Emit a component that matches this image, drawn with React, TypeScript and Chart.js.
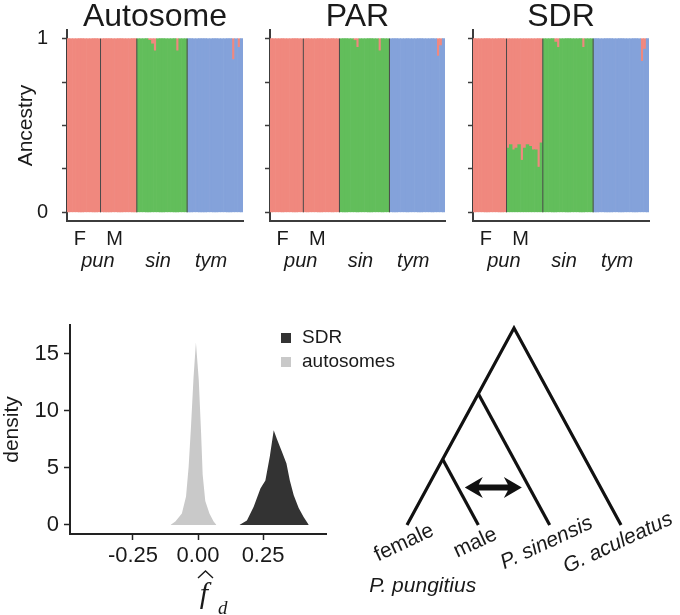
import React, { useEffect, useRef } from 'react';
import { Chart, registerables } from 'chart.js';

Chart.register(...registerables);

const SANS = '"Liberation Sans", Arial, Helvetica, sans-serif';
const SERIF = '"Liberation Serif", "DejaVu Serif", serif';
const INK = '#1a1a1a';
const AXIS_TOP = '#3c3c3c';
const AXIS = '#222222';
const RED = '#F0887E';
const GREEN = '#62BE5B';
const BLUE = '#84A2DA';

// ---------- Top row: ancestry proportions ----------
const panelTitles = ['Autosome', 'PAR', 'SDR'];
const groupSizes = [12, 13, 18, 20]; // pun F, pun M, sin, tym
const sexLabels = ['F', 'M'];
const speciesLabels = ['pun', 'sin', 'tym'];
const speciesGroups = [[0, 1], [2], [3]];
const ancestryTicks = [0, 0.25, 0.5, 0.75, 1];
const ancestryTickLabels = ['0', '', '', '', '1'];

// pun (red) ancestry per individual
const autosomePun = [
  1, 1, 1, 1, 1, 1, 1, 1, 1, 1, 1, 1,
  1, 1, 1, 1, 1, 1, 1, 1, 1, 1, 1, 1, 1,
  0, 0, 0, 0, 0.01, 0.03, 0.07, 0, 0, 0, 0, 0, 0, 0, 0.07, 0, 0, 0,
  0, 0, 0, 0, 0, 0, 0, 0, 0, 0, 0, 0, 0, 0, 0, 0, 0.12, 0, 0.05, 0,
];
// sin (green) ancestry per individual
const autosomeSin = [
  0, 0, 0, 0, 0, 0, 0, 0, 0, 0, 0, 0,
  0, 0, 0, 0, 0, 0, 0, 0, 0, 0, 0, 0, 0,
  1, 1, 1, 1, 0.99, 0.97, 0.93, 1, 1, 1, 1, 1, 1, 1, 0.93, 1, 1, 1,
  0, 0, 0, 0, 0, 0, 0, 0, 0, 0, 0, 0, 0, 0, 0, 0, 0, 0, 0, 0,
];
const parPun = [
  1, 1, 1, 1, 1, 1, 1, 1, 1, 1, 1, 1,
  1, 1, 1, 1, 1, 1, 1, 1, 1, 1, 1, 1, 1,
  0, 0, 0, 0, 0, 0.01, 0.05, 0, 0, 0, 0, 0, 0, 0, 0.07, 0, 0, 0,
  0, 0, 0, 0, 0, 0, 0, 0, 0, 0, 0, 0, 0, 0, 0, 0, 0, 0.1, 0.04, 0,
];
const parSin = [
  0, 0, 0, 0, 0, 0, 0, 0, 0, 0, 0, 0,
  0, 0, 0, 0, 0, 0, 0, 0, 0, 0, 0, 0, 0,
  1, 1, 1, 1, 1, 0.99, 0.95, 1, 1, 1, 1, 1, 1, 1, 0.93, 1, 1, 1,
  0, 0, 0, 0, 0, 0, 0, 0, 0, 0, 0, 0, 0, 0, 0, 0, 0, 0, 0, 0,
];
const sdrPun = [
  1, 1, 1, 1, 1, 1, 1, 1, 1, 1, 1, 1,
  0.63, 0.61, 0.64, 0.63, 0.61, 0.7, 0.63, 0.61, 0.62, 0.64, 0.64, 0.74, 0.6,
  0, 0, 0, 0, 0.02, 0.05, 0, 0, 0, 0, 0, 0, 0, 0, 0.05, 0, 0, 0,
  0, 0, 0, 0, 0, 0, 0, 0, 0, 0, 0, 0, 0, 0, 0, 0, 0, 0.13, 0.06, 0,
];
const sdrSin = [
  0, 0, 0, 0, 0, 0, 0, 0, 0, 0, 0, 0,
  0.37, 0.39, 0.36, 0.37, 0.39, 0.3, 0.37, 0.39, 0.38, 0.36, 0.36, 0.26, 0.4,
  1, 1, 1, 1, 0.98, 0.95, 1, 1, 1, 1, 1, 1, 1, 1, 0.95, 1, 1, 1,
  0, 0, 0, 0, 0, 0, 0, 0, 0, 0, 0, 0, 0, 0, 0, 0, 0, 0, 0, 0,
];

// ---------- Bottom left: density of f_d ----------
const fdTicks = [-0.25, 0, 0.25];
const fdTickLabels = ['-0.25', '0.00', '0.25'];
const densityTicks = [0, 5, 10, 15];
const densityTickLabels = ['0', '5', '10', '15'];
const legendLabels = ['SDR', 'autosomes'];
const sdrFd = [0.159, 0.188, 0.214, 0.24, 0.259, 0.276, 0.291, 0.304, 0.323, 0.34, 0.353, 0.368, 0.387, 0.406, 0.426];
const sdrDensity = [0, 0.4, 1.6, 3.2, 3.9, 6.0, 8.3, 7.5, 6.4, 5.4, 3.9, 2.6, 1.5, 0.7, 0];
const autoFd = [-0.106, -0.087, -0.062, -0.046, -0.036, -0.027, -0.017, -0.008, 0.003, 0.012, 0.018, 0.028, 0.044, 0.06, 0.071];
const autoDensity = [0, 0.3, 1.0, 2.5, 5.1, 8.6, 13.0, 16.0, 12.7, 8.0, 4.4, 2.1, 1.0, 0.3, 0];

// ---------- Bottom right: tree ----------
const tipNames = ['female', 'male', 'P. sinensis', 'G. aculeatus'];
const tipItalic = [false, false, true, true];
const tipX = [0, 1, 2, 3];
const nodeX = [0.5, 1, 1.5];
const nodeHeight = [1, 2, 3];
const groupName = 'P. pungitius';
const introgression = [0.81, 1.61];
const introgressionHeight = 0.57;

function edgePx(xs: any, k: number) {
  return xs.getPixelForValue(k - 0.5);
}

const nz = (arr: number[]) => arr.map((v) => (v > 0 ? v : null));

function AncestryPanel(props: any) {
  const { title, pun, sin, left, width, padLeft, padRight, showY } = props;
  const ref = useRef<HTMLCanvasElement>(null);
  useEffect(() => {
    const labels = pun.map((_: number, i: number) => String(i + 1));
    const tym = pun.map((p: number, i: number) => Math.max(0, +(1 - p - sin[i]).toFixed(3)));
    const decor = {
      id: 'ancestryDecor',
      afterDraw(chart: any) {
        const { ctx, chartArea, scales } = chart;
        const xs = scales.x;
        const ys = scales.y;
        ctx.save();
        ctx.fillStyle = INK;
        ctx.font = `32px ${SANS}`;
        ctx.textAlign = 'center';
        ctx.textBaseline = 'alphabetic';
        ctx.fillText(title, (chartArea.left + chartArea.right) / 2, 26);
        const starts: number[] = [];
        let acc = 0;
        groupSizes.forEach((s) => { starts.push(acc); acc += s; });
        ctx.strokeStyle = '#4a4a4a';
        ctx.lineWidth = 1;
        for (let g = 1; g < groupSizes.length; g++) {
          const x = edgePx(xs, starts[g]);
          ctx.beginPath();
          ctx.moveTo(x, ys.getPixelForValue(1));
          ctx.lineTo(x, ys.getPixelForValue(0));
          ctx.stroke();
        }
        const groupCenter = (gs: number[]) => {
          const a = starts[gs[0]];
          const last = gs[gs.length - 1];
          const b = starts[last] + groupSizes[last];
          return (edgePx(xs, a) + edgePx(xs, b)) / 2 - 4;
        };
        ctx.fillStyle = INK;
        ctx.font = `20px ${SANS}`;
        sexLabels.forEach((t, i) => ctx.fillText(t, groupCenter([i]), 245));
        ctx.font = `italic 20px ${SANS}`;
        speciesLabels.forEach((t, i) => ctx.fillText(t, groupCenter(speciesGroups[i]), 267));
        ctx.restore();
      },
    };
    const chart = new Chart(ref.current as HTMLCanvasElement, {
      type: 'bar',
      data: {
        labels,
        datasets: [
          { label: 'sin', data: nz(sin), backgroundColor: GREEN },
          { label: 'tym', data: nz(tym), backgroundColor: BLUE },
          { label: 'pun', data: nz(pun), backgroundColor: RED },
        ],
      },
      options: {
        responsive: false,
        animation: false,
        layout: { padding: { top: 30, right: padRight, left: 0, bottom: 0 } },
        plugins: { legend: { display: false }, tooltip: { enabled: false }, title: { display: false } },
        datasets: { bar: { barPercentage: 1, categoryPercentage: 1, borderWidth: 0 } },
        scales: {
          x: {
            stacked: true,
            ticks: { display: false },
            grid: { display: false },
            border: { display: true, color: AXIS_TOP, width: 2 },
            afterFit: (s: any) => { s.height = 59; },
          },
          y: {
            stacked: true,
            min: -0.05,
            max: 1.05,
            afterBuildTicks: (s: any) => { s.ticks = ancestryTicks.map((v) => ({ value: v })); },
            ticks: {
              callback: (_v: any, i: number) => (showY ? ancestryTickLabels[i] : ''),
              font: { family: SANS, size: 20 },
              color: INK,
              padding: 14,
            },
            grid: { drawOnChartArea: false, drawTicks: true, tickLength: 5, tickColor: AXIS_TOP, tickWidth: 1.5 },
            border: { display: true, color: AXIS_TOP, width: 2 },
            title: { display: showY, text: 'Ancestry', font: { family: SANS, size: 21 }, color: INK, padding: { top: 14, bottom: 0 } },
            afterFit: (s: any) => { s.width = padLeft; },
          },
        },
      } as any,
      plugins: [decor],
    });
    return () => chart.destroy();
  }, []);
  return <canvas ref={ref} width={width} height={280} style={{ position: 'absolute', left, top: 0 }} />;
}

function DensityPanel() {
  const ref = useRef<HTMLCanvasElement>(null);
  useEffect(() => {
    const decor = {
      id: 'densityDecor',
      afterDraw(chart: any) {
        const { ctx, chartArea, scales } = chart;
        const xs = scales.x;
        ctx.save();
        const colors = ['#333333', '#C9C9C9'];
        legendLabels.forEach((t, i) => {
          const y = chartArea.top + 8 + i * 24;
          ctx.fillStyle = colors[i];
          ctx.fillRect(chartArea.left + 211, y, 10, 10);
          ctx.fillStyle = INK;
          ctx.font = `19px ${SANS}`;
          ctx.textAlign = 'left';
          ctx.textBaseline = 'middle';
          ctx.fillText(t, chartArea.left + 232, y + 5);
        });
        const x0 = xs.getPixelForValue(0);
        ctx.fillStyle = INK;
        ctx.textAlign = 'center';
        ctx.textBaseline = 'alphabetic';
        ctx.font = `italic 30px ${SERIF}`;
        ctx.fillText('f', x0 + 6, 313);
        ctx.strokeStyle = INK;
        ctx.lineWidth = 1.4;
        ctx.beginPath();
        ctx.moveTo(x0 + 0, 288);
        ctx.lineTo(x0 + 7.5, 281);
        ctx.lineTo(x0 + 15, 288);
        ctx.stroke();
        ctx.font = `italic 19px ${SERIF}`;
        ctx.textAlign = 'left';
        ctx.fillText('d', x0 + 20, 324);
        ctx.restore();
      },
    };
    const chart = new Chart(ref.current as HTMLCanvasElement, {
      type: 'line',
      data: {
        datasets: [
          {
            label: legendLabels[0],
            data: sdrFd.map((x, i) => ({ x, y: sdrDensity[i] })),
            backgroundColor: '#333333',
            borderWidth: 0,
            pointRadius: 0,
            fill: 'origin',
            tension: 0,
          },
          {
            label: legendLabels[1],
            data: autoFd.map((x, i) => ({ x, y: autoDensity[i] })),
            backgroundColor: '#C9C9C9',
            borderWidth: 0,
            pointRadius: 0,
            fill: 'origin',
            tension: 0,
          },
        ],
      },
      options: {
        responsive: false,
        animation: false,
        layout: { padding: { top: 35, right: 94, left: 0, bottom: 0 } },
        plugins: { legend: { display: false }, tooltip: { enabled: false } },
        scales: {
          x: {
            type: 'linear',
            min: -0.492,
            max: 0.492,
            afterBuildTicks: (s: any) => { s.ticks = fdTicks.map((v) => ({ value: v })); },
            ticks: {
              callback: (_v: any, i: number) => fdTickLabels[i],
              font: { family: SANS, size: 22 },
              color: INK,
              padding: 3,
              maxRotation: 0,
            },
            grid: { drawOnChartArea: false, drawTicks: true, tickLength: 6, tickColor: AXIS, tickWidth: 1.5 },
            border: { display: true, color: AXIS, width: 2 },
            afterFit: (s: any) => { s.height = 81; },
          },
          y: {
            type: 'linear',
            min: -0.79,
            max: 17.54,
            afterBuildTicks: (s: any) => { s.ticks = densityTicks.map((v) => ({ value: v })); },
            ticks: {
              callback: (_v: any, i: number) => densityTickLabels[i],
              font: { family: SANS, size: 22 },
              color: INK,
              padding: 5,
            },
            grid: { drawOnChartArea: false, drawTicks: true, tickLength: 6, tickColor: AXIS, tickWidth: 1.5 },
            border: { display: true, color: AXIS, width: 2 },
            title: { display: true, text: 'density', font: { family: SANS, size: 21 }, color: INK, padding: { top: 0, bottom: 0 } },
            afterFit: (s: any) => { s.width = 70; },
          },
        },
      } as any,
      plugins: [decor],
    });
    return () => chart.destroy();
  }, []);
  return <canvas ref={ref} width={420} height={325} style={{ position: 'absolute', left: 0, top: 290 }} />;
}

function TreePanel() {
  const ref = useRef<HTMLCanvasElement>(null);
  useEffect(() => {
    const spine = [
      { x: tipX[0], y: 0 },
      { x: nodeX[0], y: nodeHeight[0] },
      { x: nodeX[1], y: nodeHeight[1] },
      { x: nodeX[2], y: nodeHeight[2] },
      { x: tipX[3], y: 0 },
    ];
    const maleBranch = [{ x: nodeX[0], y: nodeHeight[0] }, { x: tipX[1], y: 0 }];
    const sinBranch = [{ x: nodeX[1], y: nodeHeight[1] }, { x: tipX[2], y: 0 }];
    const decor = {
      id: 'treeDecor',
      afterDatasetsDraw(chart: any) {
        const { ctx, scales } = chart;
        const xs = scales.x;
        const ys = scales.y;
        ctx.save();
        const x1 = xs.getPixelForValue(introgression[0]);
        const x2 = xs.getPixelForValue(introgression[1]);
        const y = ys.getPixelForValue(introgressionHeight);
        const L = 18, H = 10.5, t = 3, n = 4;
        ctx.fillStyle = '#111';
        ctx.beginPath();
        ctx.moveTo(x1, y);
        ctx.lineTo(x1 + L, y - H);
        ctx.lineTo(x1 + L - n, y - t);
        ctx.lineTo(x2 - L + n, y - t);
        ctx.lineTo(x2 - L, y - H);
        ctx.lineTo(x2, y);
        ctx.lineTo(x2 - L, y + H);
        ctx.lineTo(x2 - L + n, y + t);
        ctx.lineTo(x1 + L - n, y + t);
        ctx.lineTo(x1 + L, y + H);
        ctx.closePath();
        ctx.fill();
        ctx.fillStyle = INK;
        ctx.textAlign = 'center';
        ctx.textBaseline = 'middle';
        const y0 = ys.getPixelForValue(0);
        tipNames.forEach((name, i) => {
          const px = xs.getPixelForValue(tipX[i]);
          ctx.save();
          ctx.translate(px - 3, y0 + 18);
          ctx.rotate((-25 * Math.PI) / 180);
          ctx.font = `${tipItalic[i] ? 'italic ' : ''}21px ${SANS}`;
          ctx.fillText(name, 0, 0);
          ctx.restore();
        });
        ctx.font = `italic 21px ${SANS}`;
        ctx.textBaseline = 'alphabetic';
        const gx = (xs.getPixelForValue(tipX[0]) + xs.getPixelForValue(tipX[1])) / 2 - 20;
        ctx.fillText(groupName, gx, y0 + 67);
        ctx.restore();
      },
    };
    const line = (data: any[]) => ({
      data,
      showLine: true,
      borderColor: '#111',
      borderWidth: 3.2,
      pointRadius: 0,
      borderJoinStyle: 'miter',
      borderCapStyle: 'butt',
      fill: false,
      tension: 0,
      clip: false,
    });
    const chart = new Chart(ref.current as HTMLCanvasElement, {
      type: 'scatter',
      data: { datasets: [line(spine), line(maleBranch), line(sinBranch)] as any },
      options: {
        responsive: false,
        animation: false,
        plugins: { legend: { display: false }, tooltip: { enabled: false } },
        scales: {
          x: { type: 'linear', display: false, min: -0.799, max: 3.827 },
          y: { type: 'linear', display: false, min: -1.3705, max: 3.4264 },
        },
      } as any,
      plugins: [decor],
    });
    return () => chart.destroy();
  }, []);
  return <canvas ref={ref} width={330} height={315} style={{ position: 'absolute', left: 350, top: 300 }} />;
}

export default function App() {
  return (
    <div
      style={{
        position: 'fixed',
        left: 0,
        top: 0,
        width: 680,
        height: 615,
        background: '#ffffff',
        overflow: 'hidden',
      }}
    >
      <AncestryPanel title={panelTitles[0]} pun={autosomePun} sin={autosomeSin} left={0} width={250} padLeft={67} padRight={7} showY={true} />
      <AncestryPanel title={panelTitles[1]} pun={parPun} sin={parSin} left={250} width={200} padLeft={20} padRight={5} showY={false} />
      <AncestryPanel title={panelTitles[2]} pun={sdrPun} sin={sdrSin} left={453} width={227} padLeft={20} padRight={31} showY={false} />
      <DensityPanel />
      <TreePanel />
    </div>
  );
}
